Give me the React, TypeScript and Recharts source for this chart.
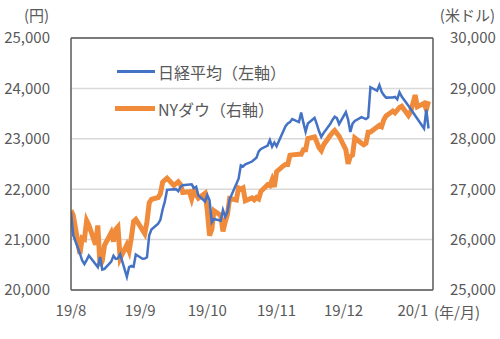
import { LineChart, Line, XAxis, YAxis, CartesianGrid, ReferenceLine } from 'recharts';

// Nikkei 225 closes (left axis, yen)
const nikkeiDates = [
  '2019-08-01', '2019-08-02', '2019-08-05', '2019-08-06', '2019-08-07', '2019-08-08', '2019-08-09', '2019-08-13',
  '2019-08-14', '2019-08-15', '2019-08-16', '2019-08-19', '2019-08-20', '2019-08-21', '2019-08-22', '2019-08-23',
  '2019-08-26', '2019-08-27', '2019-08-28', '2019-08-29', '2019-08-30',
  '2019-09-02', '2019-09-03', '2019-09-04', '2019-09-05', '2019-09-06', '2019-09-09', '2019-09-10', '2019-09-11',
  '2019-09-12', '2019-09-13', '2019-09-17', '2019-09-18', '2019-09-19', '2019-09-20', '2019-09-24', '2019-09-25',
  '2019-09-26', '2019-09-27', '2019-09-30',
  '2019-10-01', '2019-10-02', '2019-10-03', '2019-10-04', '2019-10-07', '2019-10-08', '2019-10-09', '2019-10-10',
  '2019-10-11', '2019-10-15', '2019-10-16', '2019-10-17', '2019-10-18', '2019-10-21', '2019-10-23', '2019-10-24',
  '2019-10-25', '2019-10-28', '2019-10-29', '2019-10-30', '2019-10-31',
  '2019-11-01', '2019-11-05', '2019-11-06', '2019-11-07', '2019-11-08', '2019-11-11', '2019-11-12', '2019-11-13',
  '2019-11-14', '2019-11-15', '2019-11-18', '2019-11-19', '2019-11-20', '2019-11-21', '2019-11-22', '2019-11-25',
  '2019-11-26', '2019-11-27', '2019-11-28', '2019-11-29',
  '2019-12-02', '2019-12-03', '2019-12-04', '2019-12-05', '2019-12-06', '2019-12-09', '2019-12-10', '2019-12-11',
  '2019-12-12', '2019-12-13', '2019-12-16', '2019-12-17', '2019-12-18', '2019-12-19', '2019-12-20', '2019-12-23',
  '2019-12-24', '2019-12-25', '2019-12-26', '2019-12-27', '2019-12-30',
  '2020-01-06', '2020-01-07', '2020-01-08',
];
const nikkeiValues = [
  21540, 21087, 20720, 20585, 20516, 20593, 20684, 20455,
  20655, 20405, 20418, 20563, 20677, 20618, 20628, 20711,
  20261, 20456, 20479, 20460, 20704,
  20620, 20625, 20649, 21086, 21200, 21318, 21392, 21598,
  21759, 21988, 22001, 21960, 22044, 22079, 22098, 22020,
  22048, 21878, 21756,
  21885, 21778, 21341, 21410, 21375, 21587, 21456, 21551,
  21799, 22207, 22472, 22451, 22493, 22549, 22625, 22750,
  22799, 22867, 22974, 22843, 22927,
  22851, 23251, 23303, 23330, 23392, 23332, 23520, 23320,
  23141, 23303, 23417, 23293, 23149, 23039, 23113, 23293,
  23374, 23438, 23409, 23294,
  23529, 23380, 23135, 23300, 23354, 23430, 23411, 23392,
  23425, 24023, 23953, 24066, 23934, 23865, 23817, 23821,
  23831, 23783, 23925, 23838, 23657,
  23204, 23576, 23204,
];

// NY Dow closes (right axis, USD)
const dowDates = [
  '2019-08-01', '2019-08-02', '2019-08-05', '2019-08-06', '2019-08-07', '2019-08-08', '2019-08-09', '2019-08-12',
  '2019-08-13', '2019-08-14', '2019-08-15', '2019-08-16', '2019-08-19', '2019-08-20', '2019-08-21', '2019-08-22',
  '2019-08-23', '2019-08-26', '2019-08-27', '2019-08-28', '2019-08-29', '2019-08-30',
  '2019-09-03', '2019-09-04', '2019-09-05', '2019-09-06', '2019-09-09', '2019-09-10', '2019-09-11', '2019-09-12',
  '2019-09-13', '2019-09-16', '2019-09-17', '2019-09-18', '2019-09-19', '2019-09-20', '2019-09-23', '2019-09-24',
  '2019-09-25', '2019-09-26', '2019-09-27', '2019-09-30',
  '2019-10-01', '2019-10-02', '2019-10-03', '2019-10-04', '2019-10-07', '2019-10-08', '2019-10-09', '2019-10-10',
  '2019-10-11', '2019-10-14', '2019-10-15', '2019-10-16', '2019-10-17', '2019-10-18', '2019-10-21', '2019-10-22',
  '2019-10-23', '2019-10-24', '2019-10-25', '2019-10-28', '2019-10-29', '2019-10-30', '2019-10-31',
  '2019-11-01', '2019-11-04', '2019-11-05', '2019-11-06', '2019-11-07', '2019-11-08', '2019-11-11', '2019-11-12',
  '2019-11-13', '2019-11-14', '2019-11-15', '2019-11-18', '2019-11-19', '2019-11-20', '2019-11-21', '2019-11-22',
  '2019-11-25', '2019-11-26', '2019-11-27', '2019-11-29',
  '2019-12-02', '2019-12-03', '2019-12-04', '2019-12-05', '2019-12-06', '2019-12-09', '2019-12-10', '2019-12-11',
  '2019-12-12', '2019-12-13', '2019-12-16', '2019-12-17', '2019-12-18', '2019-12-19', '2019-12-20', '2019-12-23',
  '2019-12-24', '2019-12-26', '2019-12-27', '2019-12-30', '2019-12-31',
  '2020-01-02', '2020-01-03', '2020-01-06', '2020-01-07', '2020-01-08',
];
const dowValues = [
  26583, 26485, 25718, 26030, 26008, 26379, 26287, 25897,
  26280, 25479, 25579, 25886, 26136, 25962, 26202, 26252,
  25629, 25898, 25778, 26036, 26362, 26403,
  26118, 26356, 26728, 26797, 26835, 26909, 27137, 27182,
  27220, 27076, 27111, 27147, 27094, 26935, 26950, 26808,
  26970, 26891, 26820, 26917,
  26573, 26079, 26201, 26573, 26478, 26164, 26346, 26497,
  26817, 26787, 27024, 27001, 27026, 26770, 26828, 26788,
  26834, 26806, 26958, 27091, 27071, 27186, 27046,
  27347, 27462, 27492, 27492, 27675, 27681, 27691, 27691,
  27783, 27782, 28005, 28036, 27934, 27821, 27766, 27876,
  28066, 28121, 28164, 28051,
  27783, 27502, 27650, 27677, 28015, 27910, 27881, 27911,
  28132, 28135, 28235, 28267, 28239, 28377, 28455, 28551,
  28515, 28621, 28645, 28462, 28538,
  28868, 28634, 28703, 28583, 28745,
];

const monthTicks = ['2019-08-01', '2019-09-01', '2019-10-01', '2019-11-01', '2019-12-01', '2020-01-01'];
const monthLabels = ['19/8', '19/9', '19/10', '19/11', '19/12', '20/1'];
const leftTicks = [20000, 21000, 22000, 23000, 24000, 25000];
const rightTicks = [25000, 26000, 27000, 28000, 29000, 30000];

const BLUE = '#4472C4';
const ORANGE = '#EF8B3A';
const TEXT = '#595959';
const FRAME = '#595959';
const FONT = '"Noto Sans CJK JP", "Noto Sans", sans-serif';

const toDay = (d: string) => (Date.parse(d) - Date.parse('2019-08-01')) / 86400000;

const nikkeiData = nikkeiDates.map((d, i) => ({ day: toDay(d), value: nikkeiValues[i] }));
const dowData = dowDates.map((d, i) => ({ day: toDay(d), value: dowValues[i] }));
const tickDays = monthTicks.map(toDay);

const fmt = (v: number) => v.toLocaleString('en-US');

export default function App() {
  const tickStyle = { fill: TEXT, fontSize: 15, fontFamily: FONT };
  return (
    <div style={{ position: 'relative', width: 500, height: 339, fontFamily: FONT, background: '#fff' }}>
      <style>{'body{margin:0}'}</style>
      <LineChart width={500} height={339} margin={{ top: 38, right: 0, bottom: 19, left: 0 }}>
        <CartesianGrid yAxisId="left" vertical={false} stroke="#D9D9D9" strokeWidth={1.5} />
        <XAxis
          type="number"
          dataKey="day"
          domain={[0, 162]}
          ticks={tickDays}
          interval={0}
          tickFormatter={(v: number) => monthLabels[tickDays.indexOf(v)]}
          tick={tickStyle}
          tickLine={false}
          tickSize={0}
          tickMargin={15}
          height={30}
          axisLine={{ stroke: FRAME, strokeWidth: 1.5 }}
          allowDataOverflow
        />
        <YAxis
          yAxisId="left"
          domain={[20000, 25000]}
          ticks={leftTicks}
          tickFormatter={fmt}
          tick={tickStyle}
          tickLine={false}
          tickSize={0}
          tickMargin={21}
          width={71}
          axisLine={{ stroke: FRAME, strokeWidth: 1.5 }}
        />
        <YAxis
          yAxisId="right"
          orientation="right"
          domain={[25000, 30000]}
          ticks={rightTicks}
          tickFormatter={fmt}
          tick={tickStyle}
          tickLine={false}
          tickSize={0}
          tickMargin={17}
          width={67}
          axisLine={{ stroke: FRAME, strokeWidth: 1.5 }}
        />
        <ReferenceLine yAxisId="left" y={25000} stroke={FRAME} strokeWidth={1.5} />
        <Line
          yAxisId="right"
          data={dowData}
          dataKey="value"
          type="linear"
          stroke={ORANGE}
          strokeWidth={5}
          dot={false}
          isAnimationActive={false}
        />
        <Line
          yAxisId="left"
          data={nikkeiData}
          dataKey="value"
          type="linear"
          stroke={BLUE}
          strokeWidth={2.5}
          dot={false}
          isAnimationActive={false}
        />
      </LineChart>

      {/* axis unit labels */}
      <div style={{ position: 'absolute', left: 24, top: 5, fontSize: 15, lineHeight: '20px', color: TEXT }}>(円)</div>
      <div style={{ position: 'absolute', right: 5, top: 5, fontSize: 15, lineHeight: '20px', color: TEXT }}>(米ドル)</div>
      <div style={{ position: 'absolute', left: 434, top: 302, fontSize: 15, lineHeight: '20px', color: TEXT }}>(年/月)</div>

      {/* legend */}
      <div style={{ position: 'absolute', left: 117, top: 70, width: 38, height: 3, background: BLUE }} />
      <div style={{ position: 'absolute', left: 158, top: 61, fontSize: 16, lineHeight: '22px', color: TEXT }}>日経平均（左軸）</div>
      <div style={{ position: 'absolute', left: 115, top: 106, width: 40, height: 5, background: ORANGE }} />
      <div style={{ position: 'absolute', left: 158, top: 98, fontSize: 16, lineHeight: '22px', color: TEXT }}>NYダウ（右軸）</div>
    </div>
  );
}
